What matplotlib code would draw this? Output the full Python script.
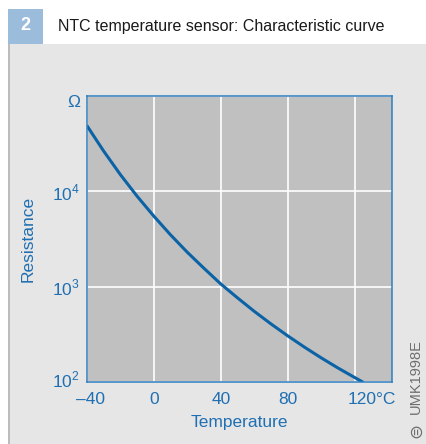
import matplotlib
matplotlib.use("Agg")
import matplotlib.pyplot as plt
import matplotlib.transforms as mtransforms
from matplotlib.patches import Rectangle

# Kennlinie NTC
temp_c = [-40, -30, -20, -10, 0, 10, 20, 30, 40, 50, 60, 70, 80, 90, 100, 110, 120, 125]
widerstand = [49000, 26500, 15000, 8900, 5500, 3500, 2300, 1560, 1070, 765,
              553, 408, 306, 233, 180, 141, 112, 100]

x_ticks = [-40, 0, 40, 80, 120]
x_ticklabels = ["\u201340", "0", "40", "80", "120\u00b0C"]
y_ticks = [1e2, 1e3, 1e4, 1e5]
y_ticklabels = [r"$10^{2}$", r"$10^{3}$", r"$10^{4}$", "\u03a9"]

blau = "#1f6fb2"
linie = "#0b63a6"

plt.rcParams["font.family"] = ["Liberation Sans", "DejaVu Sans"]
plt.rcParams["mathtext.fontset"] = "custom"
plt.rcParams["mathtext.rm"] = "Liberation Sans"

fig = plt.figure(figsize=(4.26, 4.44), dpi=100)
fig.patch.set_facecolor("white")

W, H = 426, 444
def fx(px):
    return px / W
def fy(py):
    return 1 - py / H

# Hintergrund und Kopfzeile
for r in [Rectangle((fx(8), 0), fx(418), fy(44), facecolor="#e6e6e6"),
          Rectangle((fx(8), 0), fx(2), fy(44), facecolor="#bcbcbc"),
          Rectangle((fx(8), fy(43.5)), fx(35), 35 / H, facecolor="#9cbcdb")]:
    r.set_transform(fig.transFigure)
    r.set_edgecolor("none")
    r.set_zorder(-10)
    fig.add_artist(r)
fig.text(fx(25.5), fy(26), "2", color="white", fontsize=13, fontweight="bold",
         ha="center", va="center")
fig.text(fx(58), fy(26), "NTC temperature sensor: Characteristic curve",
         color="#1a1a1a", fontsize=11.5, ha="left", va="center")

ax = fig.add_axes([fx(86.7), fy(382.3), fx(391.7) - fx(86.7), fy(95.7) - fy(382.3)])
ax.set_facecolor("#c0c0c0")
ax.set_yscale("log")
ax.plot(temp_c, widerstand, color=linie, lw=2.2, solid_capstyle="butt", zorder=3)
ax.set_xlim(-40, 142)
ax.set_ylim(1e2, 1e5)

ax.set_xticks(x_ticks)
ax.set_xticklabels(x_ticklabels)
ax.set_yticks(y_ticks)
ax.set_yticklabels(y_ticklabels)
ax.minorticks_off()
ax.tick_params(length=0, colors=blau, labelsize=12.5)
ax.tick_params(axis="x", pad=7)
ax.tick_params(axis="y", pad=5)

# letzte Beschriftung "120°C" links ausrichten, -40 etwas nach rechts
xl = ax.get_xticklabels()
xl[-1].set_ha("left")
xl[-1].set_transform(xl[-1].get_transform() + mtransforms.ScaledTranslation(-7.5 / 100, 0, fig.dpi_scale_trans))
xl[0].set_transform(xl[0].get_transform() + mtransforms.ScaledTranslation(4 / 100, 0, fig.dpi_scale_trans))
yl = ax.get_yticklabels()
yl[0].set_transform(yl[0].get_transform() + mtransforms.ScaledTranslation(0, 4 / 100, fig.dpi_scale_trans))
yl[-1].set_va("top")
yl[-1].set_transform(yl[-1].get_transform() + mtransforms.ScaledTranslation(0, 1 / 100, fig.dpi_scale_trans))

ax.grid(True, color="white", lw=1.2)
ax.set_axisbelow(True)
for s in ax.spines.values():
    s.set_color("#2f7fbf")
    s.set_linewidth(1.1)
    s.set_zorder(4)

ax.set_xlabel("Temperature", color=blau, fontsize=12.5, labelpad=6)
ax.set_ylabel("Resistance", color=blau, fontsize=12.5, labelpad=12)

fig.text(fx(416), fy(377), "UMK1998E", rotation=90, color="#6e6e6e", fontsize=10.5,
         ha="center", va="center")
fig.text(fx(416.5), fy(430), "\u229c", rotation=90, color="#6e6e6e", fontsize=13,
         ha="center", va="center", family="DejaVu Sans")

fig.savefig("out.png", dpi=100, facecolor=fig.get_facecolor())
